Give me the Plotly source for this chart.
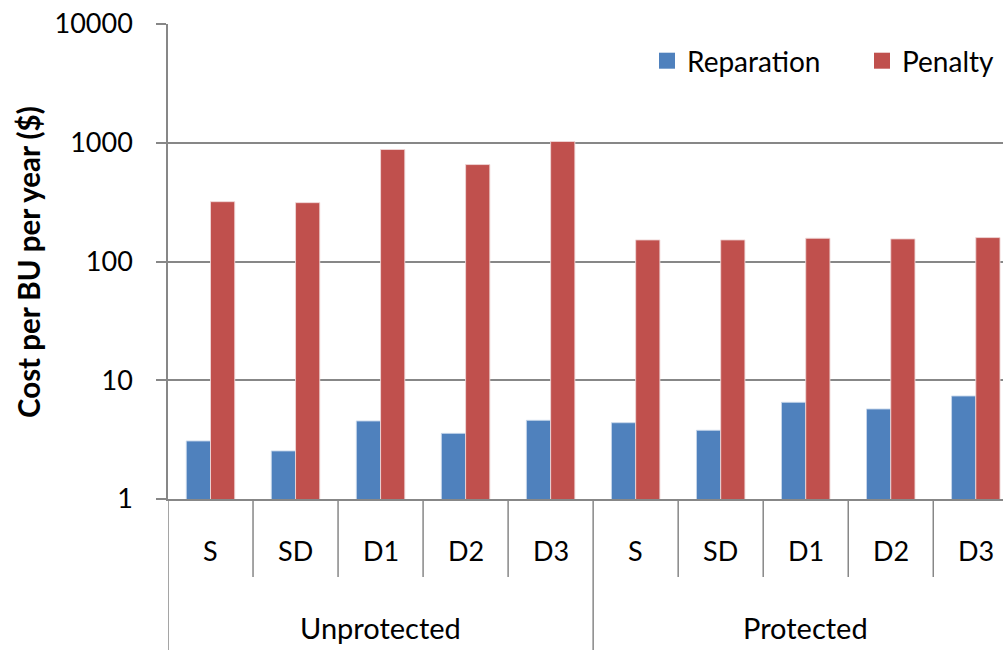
import plotly.graph_objects as go

groups = ["Unprotected", "Protected"]
scenarios = ["S", "SD", "D1", "D2", "D3"]
categories = [(g, s) for g in groups for s in scenarios]
reparation = [3.08, 2.54, 4.54, 3.57, 4.60, 4.39, 3.79, 6.52, 5.73, 7.37]
penalty = [319, 313, 877, 655, 1024, 152, 152, 157, 155, 159]
y_ticks = [1, 10, 100, 1000, 10000]
y_ticktext = ["1", "10", "100", "1000", "10000"]

FONT = "Lato, 'Open Sans', sans-serif"
GRID = "#878787"
BLUE = "#4F81BD"
RED = "#C0504D"
xs = list(range(len(categories)))

fig = go.Figure()
fig.add_trace(go.Bar(x=xs, y=reparation, name="Reparation", showlegend=False,
                     marker=dict(color=BLUE, line=dict(color="rgba(200,215,235,0.9)", width=1))))
fig.add_trace(go.Bar(x=xs, y=penalty, name="Penalty", showlegend=False,
                     marker=dict(color=RED, line=dict(color="rgba(240,215,215,0.9)", width=1))))
# legend entries with larger square swatches
for nm, col in [("Reparation", BLUE), ("Penalty", RED)]:
    fig.add_trace(go.Scatter(x=[None], y=[None], mode="markers", name=nm,
                             marker=dict(symbol="square", size=17, color=col)))

PH = 475.0
PW = 835.0
shapes = []
for k in range(len(categories) + 1):
    b = k - 0.5
    is_group = (k % len(scenarios) == 0)
    shapes.append(dict(type="line", xref="x", yref="paper", x0=b, x1=b,
                       y0=0, y1=(-151 / PH) if is_group else (-78 / PH),
                       line=dict(color=GRID, width=1.5), layer="above"))
shapes.append(dict(type="rect", xref="paper", yref="paper",
                   x0=(617 - 168) / PW, x1=1.02, y0=0.95, y1=1.05,
                   fillcolor="white", line=dict(width=0), layer="above"))

annotations = []
for i, (g, s) in enumerate(categories):
    annotations.append(dict(x=i, y=-(550 - 499) / PH, xref="x", yref="paper",
                            text=s, showarrow=False, font=dict(family=FONT, size=27, color="black"),
                            yanchor="middle"))
for gi, g in enumerate(groups):
    annotations.append(dict(x=gi * 5 + 2, y=-(627 - 499) / PH, xref="x", yref="paper",
                            text=g, showarrow=False, font=dict(family=FONT, size=29, color="black"),
                            yanchor="middle"))
annotations.append(dict(x=-(168 - 28) / PW, y=(499 - 262) / PH, xref="paper", yref="paper",
                        text="<b>Cost per BU per year ($)</b>", textangle=-90, showarrow=False,
                        font=dict(family=FONT, size=29.5, color="black"),
                        xanchor="center", yanchor="middle"))

fig.update_layout(
    width=1003, height=650,
    margin=dict(l=168, r=0, t=24, b=151, autoexpand=False),
    paper_bgcolor="white", plot_bgcolor="white",
    barmode="group", bargap=0.43, bargroupgap=0,
    font=dict(family=FONT, size=28, color="black"),
    showlegend=True,
    legend=dict(orientation="h", x=(647 - 168) / PW, xanchor="left", y=1 - 37 / PH, yanchor="middle",
                bgcolor="rgba(0,0,0,0)", font=dict(family=FONT, size=28, color="black"),
                entrywidth=170, itemsizing="trace"),
    xaxis=dict(range=[-0.5, 9.32], showticklabels=False, showgrid=False, zeroline=False,
               showline=True, linecolor=GRID, linewidth=1.5, ticks=""),
    yaxis=dict(type="log", range=[0, 4], tickvals=y_ticks, ticktext=y_ticktext,
               showgrid=True, gridcolor=GRID, gridwidth=1.5,
               showline=True, linecolor=GRID, linewidth=1.5,
               ticks="outside", ticklen=10, tickcolor=GRID, tickwidth=1.5,
               ticklabelstandoff=18, ticklabeloverflow="allow", zeroline=False,
               tickfont=dict(family=FONT, size=27, color="black")),
    shapes=shapes, annotations=annotations,
)

fig.write_html("out.html", config={"displayModeBar": False},
               post_script="document.body.style.margin='0';")
